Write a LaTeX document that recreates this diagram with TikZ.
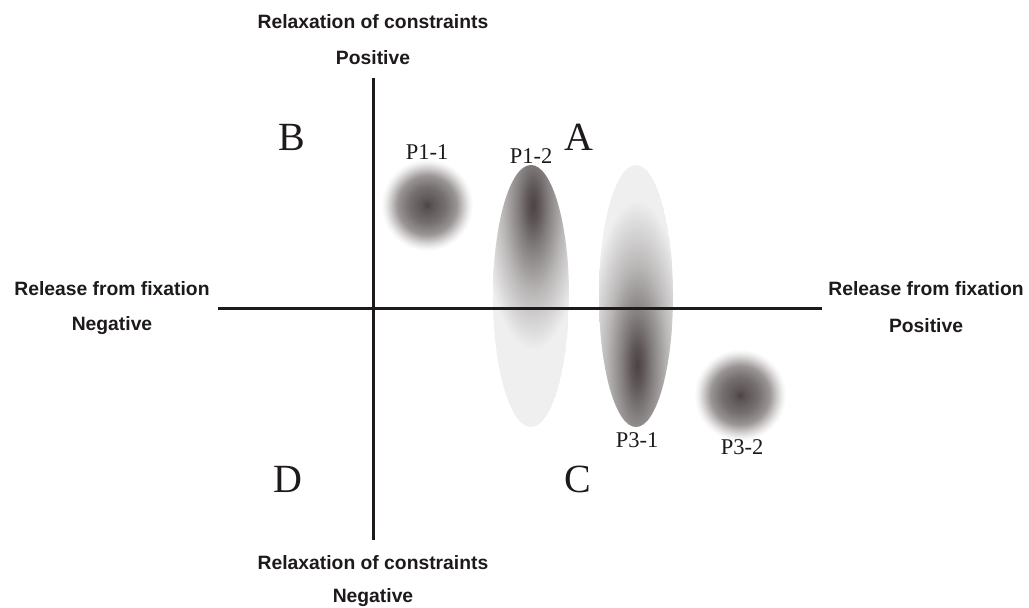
\documentclass[tikz,border=0pt]{standalone}
\usepackage{fontspec}
\setmainfont{Liberation Serif}
\setsansfont{Liberation Sans}
\definecolor{dk}{HTML}{4C4343}
\definecolor{c1}{HTML}{5E5656}
\definecolor{c2}{HTML}{767070}
\definecolor{c3}{HTML}{9A9595}
\definecolor{c4}{HTML}{CFCCCC}
\definecolor{c5}{HTML}{F2F1F1}
\definecolor{lg}{HTML}{EFEFEF}
\definecolor{e1}{HTML}{5E5656}
\definecolor{e2}{HTML}{878282}
\definecolor{e3}{HTML}{B9B6B6}
\definecolor{axis}{HTML}{1E1A1A}
\pgfdeclareradialshading{blob}{\pgfpointorigin}{color(0bp)=(dk); color(3bp)=(c1); color(10bp)=(c2); color(16bp)=(c3); color(20bp)=(c4); color(23bp)=(c5); color(25bp)=(white); color(50bp)=(white)}
\pgfdeclareradialshading{spot}{\pgfpointorigin}{color(0bp)=(dk); color(3bp)=(e1); color(8bp)=(e2); color(15bp)=(e3); color(25bp)=(lg); color(50bp)=(lg)}
\tikzset{
  axisline/.style={line width=3pt, draw=axis},
  axlabel/.style={font=\sffamily\bfseries\fontsize{19.3}{21}\selectfont, text=axis, inner sep=0pt},
  quad/.style={font=\fontsize{40}{42}\selectfont, text=axis, inner sep=0pt},
  plabel/.style={font=\fontsize{22.5}{24}\selectfont, text=axis, inner sep=0pt},
}
\begin{document}
\begin{tikzpicture}[x=1pt,y=-1pt]
\useasboundingbox[fill=white] (0,0) rectangle (1029,608);
% blobs
\shade[shading=blob] (427,205) circle (46);
\shade[shading=blob] (740,395) circle (46);
\begin{scope}
  \clip (531,296) ellipse (38 and 131);
  \fill[lg] (531,296) ellipse (38 and 131);
  \shade[shading=spot] (533,205) ellipse (50 and 145);
\end{scope}
\begin{scope}
  \clip (636,296) ellipse (37 and 131);
  \fill[lg] (636,296) ellipse (37 and 131);
  \shade[shading=spot] (637,365) ellipse (50 and 165);
\end{scope}
% axes
\coordinate (vt) at (373,78);
\coordinate (vb) at (373,540);
\coordinate (hl) at (218,308);
\coordinate (hr) at (822,308);
\draw[axisline] (vt) -- (vb);
\draw[axisline] (hl) -- (hr);
% axis labels
\node[axlabel] (t1) at (373,22) {Relaxation of constraints};
\node[axlabel] (t2) at (373,58) {Positive};
\node[axlabel] (b1) at (373,563) {Relaxation of constraints};
\node[axlabel] (b2) at (373,598) {Negative};
\node[axlabel] (l1) at (112,289) {Release from fixation};
\node[axlabel] (l2) at (112,326) {Negative};
\node[axlabel] (r1) at (926,289) {Release from fixation};
\node[axlabel] (r2) at (926,326) {Positive};
% quadrants
\node[quad] (qB) at (292,137) {B};
\node[quad] (qA) at (579,137) {A};
\node[quad] (qD) at (288,479) {D};
\node[quad] (qC) at (578,479) {C};
% point labels
\node[plabel] (p11) at (427,152) {P1-1};
\node[plabel] (p12) at (531,156) {P1-2};
\node[plabel] (p31) at (637,440) {P3-1};
\node[plabel] (p32) at (742,447) {P3-2};
\end{tikzpicture}
\end{document}
